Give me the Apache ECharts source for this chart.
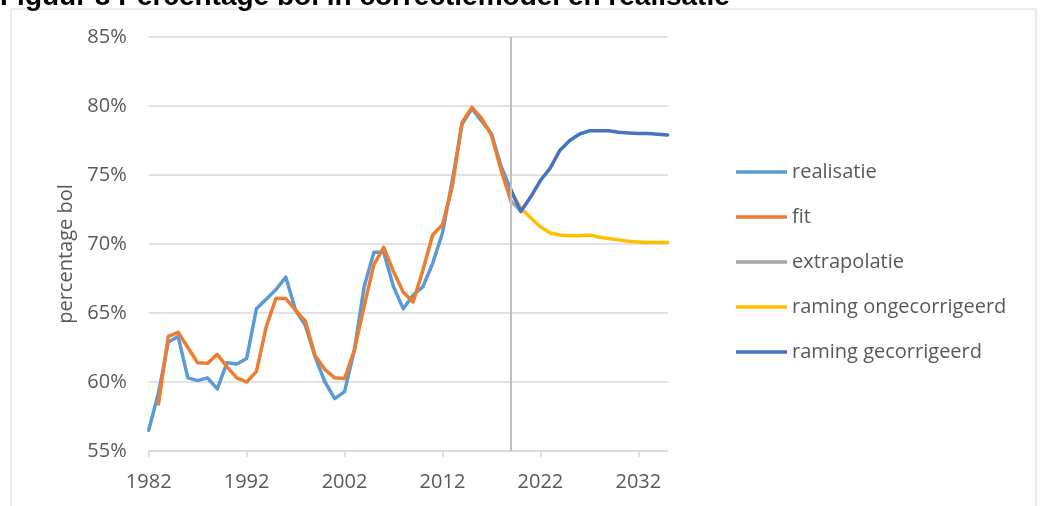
<!DOCTYPE html>
<html>
<head>
<meta charset="utf-8">
<script src="https://cdn.jsdelivr.net/npm/echarts@6/dist/echarts.min.js"></script>
<style>
html,body{margin:0;padding:0;background:#fff;}
#chart{width:1040px;height:506px;}
</style>
</head>
<body>
<div id="chart"></div>
<script>
// ---- data ----
var years = [];
for (var yr = 1982; yr <= 2035; yr++) years.push(String(yr));

// realisatie 1982..2019
var realisatie = [56.5, 59.2, 62.9, 63.3, 60.3, 60.1, 60.3, 59.5, 61.4, 61.3,
  61.7, 65.3, 66.0, 66.7, 67.6, 65.2, 64.1, 61.8, 60.0, 58.8,
  59.3, 62.3, 66.9, 69.4, 69.4, 66.9, 65.3, 66.3, 66.9, 68.6,
  70.8, 74.6, 78.7, 79.8, 78.9, 78.0, 75.6, 73.9];
// fit 1983..2019
var fit = [58.4, 63.3, 63.6, 62.5, 61.4, 61.35, 62.0, 61.1, 60.3,
  60.0, 60.75, 64.0, 66.07, 66.05, 65.2, 64.4, 61.9, 60.9, 60.3,
  60.25, 62.3, 65.5, 68.5, 69.75, 68.0, 66.5, 65.8, 68.1, 70.65,
  71.4, 74.15, 78.8, 79.9, 79.1, 77.9, 75.3, 73.1];
// extrapolatie 2019..2020
var extrapolatie = [73.1, 72.4];
// raming ongecorrigeerd 2019..2035
var ramingOngecorrigeerd = [73.8, 72.6, 71.9, 71.25, 70.8, 70.65, 70.6, 70.6, 70.65,
  70.5, 70.4, 70.3, 70.2, 70.15, 70.1, 70.1, 70.1];
// raming gecorrigeerd 2019..2035
var ramingGecorrigeerd = [73.9, 72.35, 73.4, 74.6, 75.5, 76.8, 77.5, 77.97, 78.2,
  78.2, 78.2, 78.1, 78.05, 78.0, 78.0, 77.95, 77.9];

var yTicks = [55, 60, 65, 70, 75, 80, 85];
var markYear = '2019';

function pad(arr, startYear) {
  var out = [];
  for (var i = 0; i < years.length; i++) {
    var idx = (1982 + i) - startYear;
    out.push(idx >= 0 && idx < arr.length ? arr[idx] : null);
  }
  return out;
}

var chart = echarts.init(document.getElementById('chart'));
var font = '"Open Sans", "Liberation Sans", sans-serif';
var txt = '#595959';

function lineSeries(name, data, color, extra) {
  var s = {
    name: name, type: 'line', data: data, symbol: 'none', showSymbol: false,
    connectNulls: false, smooth: false,
    lineStyle: {color: color, width: 3.5, cap: 'round', join: 'round'},
    itemStyle: {color: color},
    emphasis: {disabled: true}, animation: false
  };
  if (extra) for (var k in extra) s[k] = extra[k];
  return s;
}

chart.setOption({
  animation: false,
  backgroundColor: '#fff',
  graphic: [
    {type: 'rect', shape: {x: 11, y: 9, width: 1025, height: 520}, style: {fill: 'none', stroke: '#d9d9d9', lineWidth: 1}, silent: true, z: -10},
    {type: 'text', x: 0, y: 11, style: {text: 'Figuur 8 Percentage bol in correctiemodel en realisatie', font: 'bold 28px "Liberation Sans", Arial, sans-serif', fill: '#000', textVerticalAlign: 'bottom'}, silent: true}
  ],
  grid: {left: 148.7, right: 372.3, top: 37, bottom: 55, containLabel: false},
  xAxis: {
    type: 'category', data: years, boundaryGap: false,
    axisLine: {show: true, lineStyle: {color: '#d9d9d9', width: 1.5}},
    axisTick: {show: true, interval: 9, length: 6, lineStyle: {color: '#d9d9d9', width: 1.5}},
    axisLabel: {interval: 9, color: txt, fontSize: 20, fontFamily: font, margin: 21},
    splitLine: {show: false}
  },
  yAxis: {
    type: 'value', min: 55, max: 85, interval: 5,
    name: 'percentage bol', nameLocation: 'middle', nameGap: 72,
    nameTextStyle: {color: txt, fontSize: 20, fontFamily: font, padding: [0, 20, 0, 0]},
    axisLine: {show: false}, axisTick: {show: false},
    axisLabel: {color: txt, fontSize: 20, fontFamily: font, margin: 22,
      formatter: function (v) { return yTicks.indexOf(v) >= 0 ? v + '%' : ''; }},
    splitLine: {show: true, lineStyle: {color: '#d9d9d9', width: 1.5}}
  },
  legend: {
    orient: 'vertical', left: 731, top: 157,
    icon: 'rect', itemWidth: 51, itemHeight: 3.5, itemGap: 25,
    textStyle: {color: txt, fontSize: 20, fontFamily: font, lineHeight: 20},
    data: ['realisatie', 'fit', 'extrapolatie', 'raming ongecorrigeerd', 'raming gecorrigeerd']
  },
  series: [
    lineSeries('realisatie', pad(realisatie, 1982), '#5B9BD5', {
      markLine: {silent: true, symbol: 'none', animation: false, label: {show: false},
        lineStyle: {color: '#BFBFBF', width: 2, type: 'solid'},
        data: [{xAxis: markYear}]}
    }),
    lineSeries('fit', pad(fit, 1983), '#ED7D31'),
    lineSeries('extrapolatie', pad(extrapolatie, 2019), '#A5A5A5'),
    lineSeries('raming ongecorrigeerd', pad(ramingOngecorrigeerd, 2019), '#FFC000'),
    lineSeries('raming gecorrigeerd', pad(ramingGecorrigeerd, 2019), '#4472C4')
  ]
});
</script>
</body>
</html>
